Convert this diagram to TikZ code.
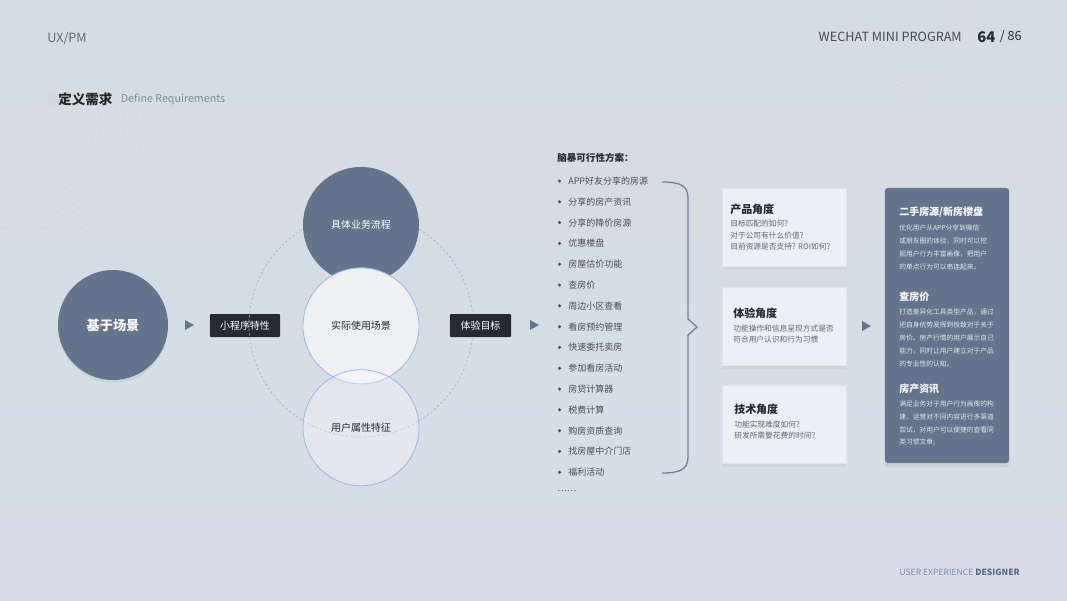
\documentclass[tikz,border=0pt]{standalone}
\usepackage{fontspec}
\setmainfont{Noto Sans CJK SC}
\usepackage{xcolor}
\usetikzlibrary{shapes,arrows,positioning,shadows}

\definecolor{bgtop}{RGB}{212,221,223}
\definecolor{bgbot}{RGB}{215,222,234}
\definecolor{slate}{RGB}{100,116,140}
\definecolor{tagdark}{RGB}{37,42,51}
\definecolor{inkdark}{RGB}{38,42,50}
\definecolor{inklist}{RGB}{72,78,88}
\definecolor{inkgray}{RGB}{96,104,116}
\definecolor{inksoft}{RGB}{125,138,156}
\definecolor{ringblue}{RGB}{160,186,226}
\definecolor{ringfill}{RGB}{238,240,244}
\definecolor{cardfill}{RGB}{236,239,243}
\definecolor{cardline}{RGB}{222,229,238}
\definecolor{bracecol}{RGB}{112,126,150}
\definecolor{paneltext}{RGB}{226,231,238}

\begin{document}
\begin{tikzpicture}[x=0.025cm, y=-0.025cm, node distance=0.52cm,
    txt/.style={inner sep=0pt, anchor=west},
    bigdot/.style={circle, fill=slate, text=white, minimum size=2.75cm, font=\bfseries\fontsize{9.4}{11}\selectfont, drop shadow={shadow xshift=0pt, shadow yshift=-2pt, opacity=0.12}},
    ring/.style={circle, draw=ringblue, line width=0.6pt, minimum size=2.9cm, text=inkdark, font=\fontsize{7.1}{9}\selectfont},
    tag/.style={fill=tagdark, text=white, minimum height=0.575cm, rounded corners=0.6pt, font=\fontsize{7.1}{9}\selectfont},
    pointer/.style={isosceles triangle, isosceles triangle stretches, fill=slate, inner sep=0pt, minimum width=0.25cm, minimum height=0.22cm},
    item/.style={txt, text=inklist, font=\fontsize{6.4}{8}\selectfont, label={[circle, fill=inklist, inner sep=0.85pt, xshift=-4.6pt]left:{}}},
    card/.style={fill=cardfill, draw=cardline, line width=0.4pt, minimum width=3.1cm, minimum height=1.95cm, drop shadow={shadow xshift=0pt, shadow yshift=-3pt, opacity=0.08}},
    cardhead/.style={txt, text=inkdark, font=\bfseries\fontsize{7.8}{9}\selectfont},
    cardbody/.style={txt, align=left, text=inkgray, font=\fontsize{5.5}{8.2}\selectfont},
    panelhead/.style={txt, text=white, font=\bfseries\fontsize{7.1}{9}\selectfont},
    panelbody/.style={txt, align=left, text=paneltext, font=\fontsize{4.8}{9.1}\selectfont},
    brace/.style={draw=bracecol, line width=0.9pt, line join=round}]

    \useasboundingbox (0,0) rectangle (1067,600);
    \fill[top color=bgtop, bottom color=bgbot] (0,0) rectangle (1067,600);
    \begin{scope}
        \clip (0,0) rectangle (1067,600);
        \foreach \r in {60,66,...,120} \draw[white, opacity=0.2, line width=0.3pt] (25,125) circle[radius=\r];
        \foreach \r in {46,50,...,66} \draw[white, opacity=0.22, line width=0.3pt] (915,28) circle[radius=\r];
    \end{scope}

    \node[txt, text=inkgray, font=\fontsize{9}{11}\selectfont] (ux) at (47,39) {UX/PM};
    \node[txt, anchor=east, text=inkdark!85, font=\fontsize{9}{11}\selectfont] (wechat) at (962,37) {WECHAT MINI PROGRAM};
    \node[txt, text=inkdark, font=\bfseries\fontsize{10.5}{12}\selectfont] (page) at (977,37) {64};
    \node[txt, text=inkdark, font=\fontsize{9}{11}\selectfont, right=0.1cm of page] (total) {/ 86};

    \node[circle, fill=slate!30, fill opacity=0.45, minimum size=0.36cm, inner sep=0pt] (tdot) at (55,99) {};
    \node[txt, text=black!85, font=\bfseries\fontsize{9.6}{11}\selectfont] (define) at (58,99) {定义需求};
    \node[txt, text=inksoft, font=\fontsize{7.6}{9}\selectfont, right=0.2cm of define] (defen) {Define Requirements};

    \node[bigdot] (scene) at (113,325) {基于场景};
    \node[pointer] (p1) at (188,325) {};
    \node[tag, minimum width=1.75cm] (mini) at (245,325.5) {小程序特性};

    \node[circle, draw=ringblue, dash pattern=on 1.6pt off 1.6pt, line width=0.5pt, minimum size=5.6cm] (orbit) at (361,325) {};
    \node[ring, draw=none, fill=slate, text=white] (flow) at (361,225) {具体业务流程};
    \node[ring, fill=ringfill, below=-0.4cm of flow] (use) {实际使用场景};
    \node[ring, fill=white, fill opacity=0.3, text opacity=1, below=-0.375cm of use] (user) {用户属性特征};

    \node[tag, minimum width=1.525cm] (goal) at (480.5,325.5) {体验目标};
    \node[pointer] (p2) at (533,325) {};

    \node[txt, text=inkdark, font=\bfseries\fontsize{6.8}{8}\selectfont] (brain) at (557,158) {脑暴可行性方案：};
    \node[item] (i1) at (568,181) {APP好友分享的房源};
    \node[item, below=of i1.west, anchor=west] (i2) {分享的房产资讯};
    \node[item, below=of i2.west, anchor=west] (i3) {分享的降价房源};
    \node[item, below=of i3.west, anchor=west] (i4) {优惠楼盘};
    \node[item, below=of i4.west, anchor=west] (i5) {房屋估价功能};
    \node[item, below=of i5.west, anchor=west] (i6) {查房价};
    \node[item, below=of i6.west, anchor=west] (i7) {周边小区查看};
    \node[item, below=of i7.west, anchor=west] (i8) {看房预约管理};
    \node[item, below=of i8.west, anchor=west] (i9) {快速委托卖房};
    \node[item, below=of i9.west, anchor=west] (i10) {参加看房活动};
    \node[item, below=of i10.west, anchor=west] (i11) {房贷计算器};
    \node[item, below=of i11.west, anchor=west] (i12) {税费计算};
    \node[item, below=of i12.west, anchor=west] (i13) {购房资质查询};
    \node[item, below=of i13.west, anchor=west] (i14) {找房屋中介门店};
    \node[item, below=of i14.west, anchor=west] (i15) {福利活动};
    \node[txt, text=inklist, font=\fontsize{6.4}{8}\selectfont] (more) at (557,491) {……};

    \coordinate (bt) at (662,182);
    \coordinate (bb) at (662,473);
    \coordinate (tip) at (697,327);
    \draw[brace] (bt) .. controls (681,182) and (688,186) .. (688,198) -- (688,319) -- (tip) -- (688,335) -- (688,457) .. controls (688,469) and (681,473) .. (bb);

    \node[card] (prod) at (784,227) {};
    \node[card] (exp) at (784,326) {};
    \node[card] (tech) at (784,424) {};
    \node[cardhead] (prodh) at (730,209) {产品角度};
    \node[cardbody] (prodb) at (730,235.5) {目标匹配的如何?\\对于公司有什么价值?\\目前资源是否支持? ROI如何?};
    \node[cardhead] (exph) at (733,313) {体验角度};
    \node[cardbody] (expb) at (733,334) {功能操作和信息呈现方式是否\\符合用户认识和行为习惯};
    \node[cardhead] (techh) at (734,409) {技术角度};
    \node[cardbody] (techb) at (734,430) {功能实现难度如何?\\研发所需要花费的时间?};

    \node[pointer] (p3) at (865,326) {};

    \node[fill=slate, rounded corners=2pt, minimum width=3.1cm, minimum height=6.875cm, drop shadow={shadow xshift=0pt, shadow yshift=-3pt, opacity=0.12}] (panel) at (947,325.5) {};
    \node[panelhead] (h1) at (899,212) {二手房源/新房楼盘};
    \node[panelbody] (b1) at (899,247.5) {优化用户从APP分享到微信\\或朋友圈的体验，同时可以挖\\掘用户行为丰富画像，把用户\\的单点行为可以串连起来。};
    \node[panelhead] (h2) at (899,297) {查房价};
    \node[panelbody] (b2) at (899,338) {打造差异化工具类型产品，通过\\把自身优势发挥到极致对于关于\\房价、房产行情的用户展示自己\\能力，同时让用户建立对于产品\\的专业性的认知。};
    \node[panelhead] (h3) at (899,389) {房产资讯};
    \node[panelbody] (b3) at (899,423.5) {满足业务对于用户行为画像的构\\建，运营对不同内容进行多渠道\\尝试，对用户可以便捷的查看同\\类习惯文章;};

    \node[txt, anchor=east, text=inksoft, font=\fontsize{6.1}{8}\selectfont] (footer) at (1020,572) {USER EXPERIENCE \textcolor{slate!90!black}{\bfseries DESIGNER}};
\end{tikzpicture}
\end{document}
